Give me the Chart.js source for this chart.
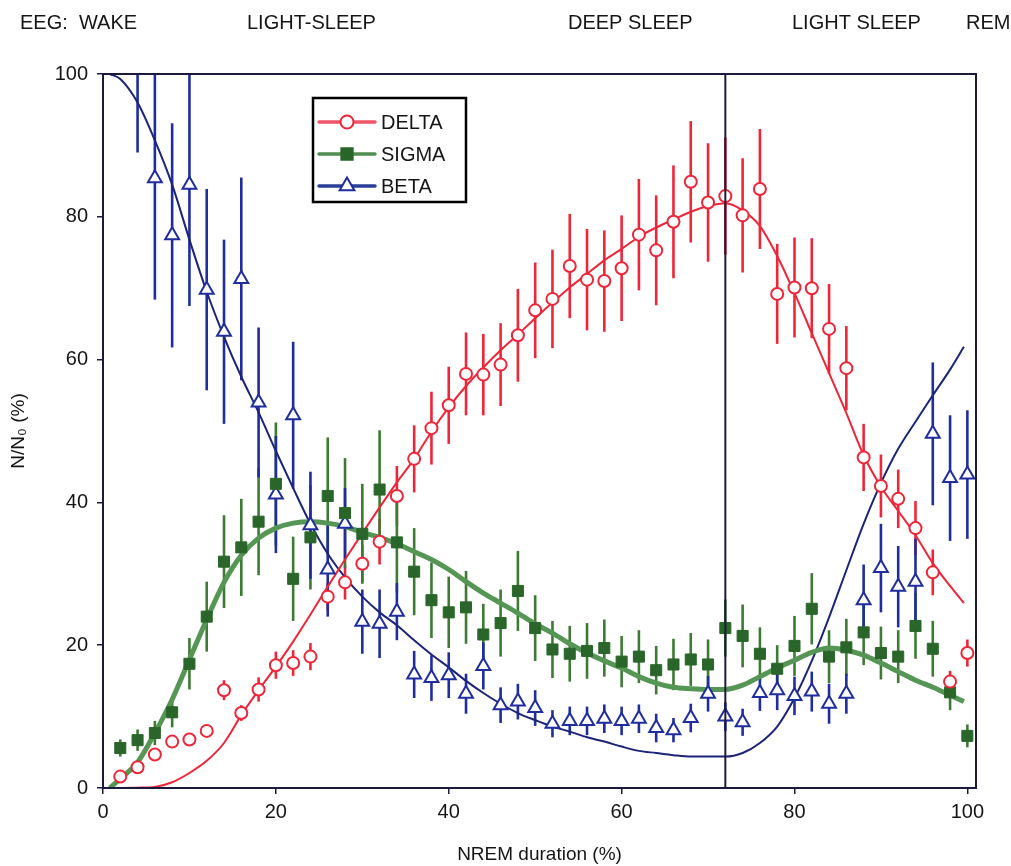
<!DOCTYPE html>
<html><head><meta charset="utf-8">
<script src="https://cdn.jsdelivr.net/npm/chart.js@4.4.1/dist/chart.umd.min.js"></script>
<style>html,body{margin:0;padding:0;background:#fff}canvas{display:block}</style>
</head><body>
<canvas id="c" width="1011" height="866"></canvas>
<script>
// ---------- data ----------
const deltaX = [2,4,6,8,10,12,14,16,18,20,22,24,26,28,30,32,34,36,38,40,42,44,46,48,50,52,54,56,58,60,62,64,66,68,70,72,74,76,78,80,82,84,86,88,90,92,94,96,98,100];
const deltaY = [1.6,2.9,4.7,6.5,6.8,8.0,13.7,10.5,13.8,17.2,17.5,18.4,26.8,28.8,31.4,34.5,40.9,46.1,50.4,53.6,58.0,57.9,59.3,63.4,66.9,68.5,73.1,71.2,71.0,72.8,77.5,75.3,79.3,84.9,82.0,82.9,80.2,83.9,69.2,70.1,70.0,64.3,58.8,46.3,42.3,40.5,36.4,30.2,14.9,18.9];
const deltaErr = [0,0,0,0,0,0,1.4,1.1,1.7,1.9,1.8,1.9,1.9,2.4,2.6,3.2,4.2,4.7,5.1,5.4,5.8,5.7,5.8,6.5,6.7,6.9,7.3,7.1,7.1,7.4,7.8,7.7,7.9,8.5,8.3,8.2,8.0,8.4,7.0,7.0,7.0,6.3,5.9,4.7,4.4,4.1,3.8,3.2,1.5,1.9];

const sigmaX = [2,4,6,8,10,12,14,16,18,20,22,24,26,28,30,32,34,36,38,40,42,44,46,48,50,52,54,56,58,60,62,64,66,68,70,72,74,76,78,80,82,84,86,88,90,92,94,96,98,100];
const sigmaY = [5.6,6.7,7.7,10.6,17.4,24.0,31.7,33.7,37.3,42.6,29.3,35.1,40.9,38.5,35.6,41.8,34.4,30.3,26.3,24.6,25.3,21.5,23.1,27.6,22.4,19.4,18.8,19.2,19.6,17.7,18.4,16.5,17.3,18.0,17.3,22.4,21.3,18.8,16.7,19.9,25.1,18.4,19.7,21.8,18.9,18.4,22.7,19.5,13.4,7.3];
const sigmaErr = [1.2,1.5,1.7,2.1,3.6,4.9,6.5,6.8,7.5,8.6,5.9,7.3,8.2,7.7,7.0,8.3,7.0,6.1,5.3,5.0,5.1,4.3,4.7,5.6,4.6,4.0,3.9,3.9,4.0,3.6,3.7,3.4,3.6,3.7,3.5,4.0,4.4,3.7,3.3,4.2,5.0,3.7,4.0,4.6,3.7,3.7,4.6,3.9,2.5,1.6];

const betaX = [4,6,8,10,12,14,16,18,20,22,24,26,28,30,32,34,36,38,40,42,44,46,48,50,52,54,56,58,60,62,64,66,68,70,72,74,76,78,80,82,84,86,88,90,92,94,96,98,100];
const betaY = [103,85.4,77.4,84.5,69.8,63.9,71.3,54.0,41.1,52.2,36.8,30.6,37.0,23.3,23.0,24.7,15.9,15.4,15.8,13.2,17.1,11.6,12.1,11.2,9.0,9.4,9.4,9.7,9.4,9.7,8.4,8.1,9.8,13.2,10.0,9.2,13.3,13.7,12.9,13.5,11.8,13.2,26.3,30.8,28.2,28.9,49.6,43.4,43.9];
const betaErr = [14,17,15.7,17,14.1,12.9,14.2,10.5,8.2,10.3,7.5,6.6,5,4.5,4.8,4.0,3.3,3.2,3.2,2.8,3.3,2.5,2.5,2.5,1.9,2.0,2.0,2.0,2.0,2.0,2.0,1.7,2.0,2.5,2.0,1.9,2.5,2.8,2.7,2.8,2.8,2.8,5.0,6.2,5.7,6.0,10.0,8.8,9.0];

const deltaFitX = [1,4,6,8,10,12,14,16,18,20,22,24,26,28,30,32,34,36,38,40,42,44,46,48,50,52,54,56,58,60,62,64,66,68,70,72,74,76,78,80,82,84,86,88,90,92,94,96,98,99.6];
const deltaFitY = [0,0.05,0.15,0.8,2.1,3.8,6.3,10.2,13.7,17.0,20.5,24.3,28.2,32.0,35.7,39.3,42.8,46.1,49.9,53.3,56.3,58.9,61.3,63.5,65.8,68.0,70.1,72.0,73.9,75.5,77.2,78.5,79.6,80.7,81.5,81.9,80.9,78.7,74.5,69.3,63.7,58.1,52.5,46.6,42.2,38.8,35.4,31.5,28.3,25.9];

const sigmaFitX = [0.8,2,4,6,8,10,12,14,16,18,20,22,24,26,28,30,32,34,36,38,40,42,44,46,48,50,52,54,56,58,60,62,64,66,68,70,72,74,76,78,80,82,84,86,88,90,92,94,96,98,99.6];
const sigmaFitY = [0,1.3,3.6,7.7,12.4,18.0,23.6,28.8,32.6,35.0,36.4,37.1,37.3,37.1,36.6,35.8,35.1,34.2,33.1,32.0,30.6,28.9,27.3,25.9,24.5,23.0,21.7,20.2,18.9,17.8,16.8,15.6,14.7,14.1,13.9,13.8,13.8,14.4,15.6,16.8,17.9,19.0,19.6,19.3,18.6,17.5,16.3,15.1,14.1,13.0,12.1];

const betaFitX = [0.8,2,4,6,8,10,12,14,16,18,20,22,24,26,28,30,32,34,36,38,40,42,44,46,48,50,52,54,56,58,60,62,64,66,68,70,72,74,76,78,80,82,84,86,88,90,92,94,96,98,99.6];
const betaFitY = [100,99.3,96.0,90.7,84.5,76.8,69.5,63.2,57.6,52.6,47.2,42.0,37.0,32.8,29.5,26.8,24.6,22.8,20.7,18.7,16.9,15.0,13.3,11.8,10.5,9.5,8.6,7.9,7.1,6.5,5.8,5.2,4.9,4.6,4.4,4.4,4.4,4.9,6.3,8.6,12.6,17.8,23.9,30.5,37.0,42.7,47.5,51.3,55.0,58.6,61.8];

const xTickValues = [0,20,40,60,80,100];
const yTickValues = [0,20,40,60,80,100];
const boundaryX = 72;
const seriesNames = ['DELTA','SIGMA','BETA'];
const stageLabels = ['EEG:  WAKE','LIGHT-SLEEP','DEEP SLEEP','LIGHT SLEEP','REM'];

// ---------- styles / layout ----------
const FONT = "'Liberation Sans', Arial, Helvetica, sans-serif";
const INK = '#151515';
const FRAME = '#1c1a3c';
const RED = '#ef2538', GREEN_PT = '#2a662a', GREEN_ERR = '#3d7a33', GREEN_FIT = '#559655', BLUE = '#1f2d9e', BLUE_FIT = '#1b2478';
const stageLabelLeft = [20,247,568,792,966];

const toXY = (xs, ys) => xs.map((v,i)=>({x:v, y:ys[i]}));

const seriesDefs = [
  {x:deltaX, y:deltaY, err:deltaErr, errColor:RED},
  {x:sigmaX, y:sigmaY, err:sigmaErr, errColor:GREEN_ERR},
  {x:betaX, y:betaY, err:betaErr, errColor:BLUE}
];

const legendDefs = [
  {style:'circle', r:6.5, fill:'#fff', stroke:RED, line:'#f0566a'},
  {style:'rect', r:8, fill:GREEN_PT, stroke:GREEN_PT, line:'#4f8f4f'},
  {style:'triangle', r:8.5, fill:'#fff', stroke:BLUE, line:'#2a3f98'}
];

function drawMarker(ctx, style, x, y, r, fill, stroke, lw) {
  ctx.save(); ctx.beginPath();
  if (style === 'circle') ctx.arc(x, y, r, 0, Math.PI*2);
  else if (style === 'rect') { const s = r*Math.SQRT1_2; ctx.rect(x-s, y-s, 2*s, 2*s); }
  else { const a = 2*Math.PI/3; ctx.moveTo(x, y-r); ctx.lineTo(x+r*Math.sin(a), y-r*Math.cos(a)); ctx.lineTo(x+r*Math.sin(2*a), y-r*Math.cos(2*a)); ctx.closePath(); }
  ctx.fillStyle = fill; ctx.fill(); ctx.lineWidth = lw; ctx.strokeStyle = stroke; ctx.stroke();
  ctx.restore();
}

const errorBars = {
  id: 'errorBars',
  beforeDatasetsDraw(chart) {
    const {ctx, chartArea:a, scales:{x, y}} = chart;
    ctx.save();
    ctx.beginPath(); ctx.rect(a.left, a.top, a.right-a.left, a.bottom-a.top); ctx.clip();
    ctx.lineCap = 'butt';
    seriesDefs.forEach(s => {
      ctx.strokeStyle = s.errColor; ctx.lineWidth = 2.6;
      s.x.forEach((xv, i) => {
        const e = s.err[i]; if (!e) return;
        const px = x.getPixelForValue(xv);
        ctx.beginPath();
        ctx.moveTo(px, y.getPixelForValue(s.y[i]-e));
        ctx.lineTo(px, y.getPixelForValue(s.y[i]+e));
        ctx.stroke();
      });
    });
    ctx.restore();
  }
};

const decorations = {
  id: 'decorations',
  afterDatasetsDraw(chart) {
    const {ctx, chartArea:a, scales:{x}} = chart;
    ctx.save();
    ctx.strokeStyle = FRAME; ctx.lineWidth = 2;
    const bx = x.getPixelForValue(boundaryX);
    ctx.beginPath(); ctx.moveTo(bx, a.top); ctx.lineTo(bx, a.bottom); ctx.stroke();
    ctx.strokeRect(a.left, a.top, a.right-a.left, a.bottom-a.top);
    ctx.restore();
  },
  afterDraw(chart) {
    const {ctx} = chart;
    ctx.save();
    // stage labels
    ctx.fillStyle = INK; ctx.font = '20px ' + FONT; ctx.textBaseline = 'middle'; ctx.textAlign = 'left';
    stageLabels.forEach((t,i) => ctx.fillText(t, stageLabelLeft[i], 23));
    // legend box
    const L = 313, T = 98, W = 153, H = 104;
    ctx.fillStyle = '#fff'; ctx.fillRect(L, T, W, H);
    ctx.strokeStyle = '#000'; ctx.lineWidth = 2.5; ctx.strokeRect(L, T, W, H);
    seriesNames.forEach((name, i) => {
      const d = legendDefs[i];
      const cy = T + 24 + i*32;
      ctx.strokeStyle = d.line; ctx.lineWidth = 3.5; ctx.lineCap = 'round';
      ctx.beginPath(); ctx.moveTo(319, cy); ctx.lineTo(375, cy); ctx.stroke();
      drawMarker(ctx, d.style, 347, cy, d.r, d.fill, d.stroke, 2);
      ctx.fillStyle = INK; ctx.font = '20px ' + FONT; ctx.textBaseline = 'middle';
      ctx.fillText(name, 381, cy + 1);
    });
    ctx.restore();
  }
};

new Chart(document.getElementById('c'), {
  type: 'scatter',
  data: {
    datasets: [
      {label:seriesNames[0], data:toXY(deltaX, deltaY), pointStyle:'circle', pointRadius:6, pointBackgroundColor:'#fff', pointBorderColor:RED, pointBorderWidth:2, showLine:false, clip:0},
      {label:seriesNames[1], data:toXY(sigmaX, sigmaY), pointStyle:'rect', pointRadius:7.8, pointBackgroundColor:GREEN_PT, pointBorderColor:GREEN_PT, pointBorderWidth:1, showLine:false, clip:0},
      {label:seriesNames[2], data:toXY(betaX, betaY), pointStyle:'triangle', pointRadius:8, pointBackgroundColor:'#fff', pointBorderColor:BLUE, pointBorderWidth:2, showLine:false, clip:0},
      {label:'delta fit', data:toXY(deltaFitX, deltaFitY), showLine:true, pointRadius:0, borderColor:RED, borderWidth:2, cubicInterpolationMode:'monotone', clip:0},
      {label:'sigma fit', data:toXY(sigmaFitX, sigmaFitY), showLine:true, pointRadius:0, borderColor:GREEN_FIT, borderWidth:5, cubicInterpolationMode:'monotone', clip:0},
      {label:'beta fit', data:toXY(betaFitX, betaFitY), showLine:true, pointRadius:0, borderColor:BLUE_FIT, borderWidth:2, cubicInterpolationMode:'monotone', clip:0}
    ]
  },
  options: {
    responsive: false,
    animation: false,
    events: [],
    layout: {padding: {left:0, right:35, top:74, bottom:0}},
    plugins: {legend:{display:false}, tooltip:{enabled:false}},
    scales: {
      x: {
        type:'linear', min:0, max:101,
        afterBuildTicks: s => { s.ticks = xTickValues.map(v => ({value:v})); },
        afterFit: s => { s.height = 78; },
        grid: {drawOnChartArea:false, drawTicks:true, tickLength:6, color:FRAME, lineWidth:1.5},
        border: {display:true, color:FRAME, width:2},
        ticks: {font:{size:20, family:FONT}, color:INK, padding:6, maxRotation:0},
        title: {display:true, text:'NREM duration (%)', font:{size:19, family:FONT}, color:INK, padding:{top:0, bottom:0}}
      },
      y: {
        type:'linear', min:0, max:100,
        afterBuildTicks: s => { s.ticks = yTickValues.map(v => ({value:v})); },
        afterFit: s => { s.width = 103; },
        grid: {drawOnChartArea:false, drawTicks:true, tickLength:6, color:FRAME, lineWidth:1.5},
        border: {display:true, color:FRAME, width:2},
        ticks: {font:{size:20, family:FONT}, color:INK, padding:9},
        title: {display:true, text:'N/N₀ (%)', font:{size:19, family:FONT}, color:INK, padding:{top:7, bottom:0}}
      }
    }
  },
  plugins: [errorBars, decorations]
});
</script>
</body></html>
